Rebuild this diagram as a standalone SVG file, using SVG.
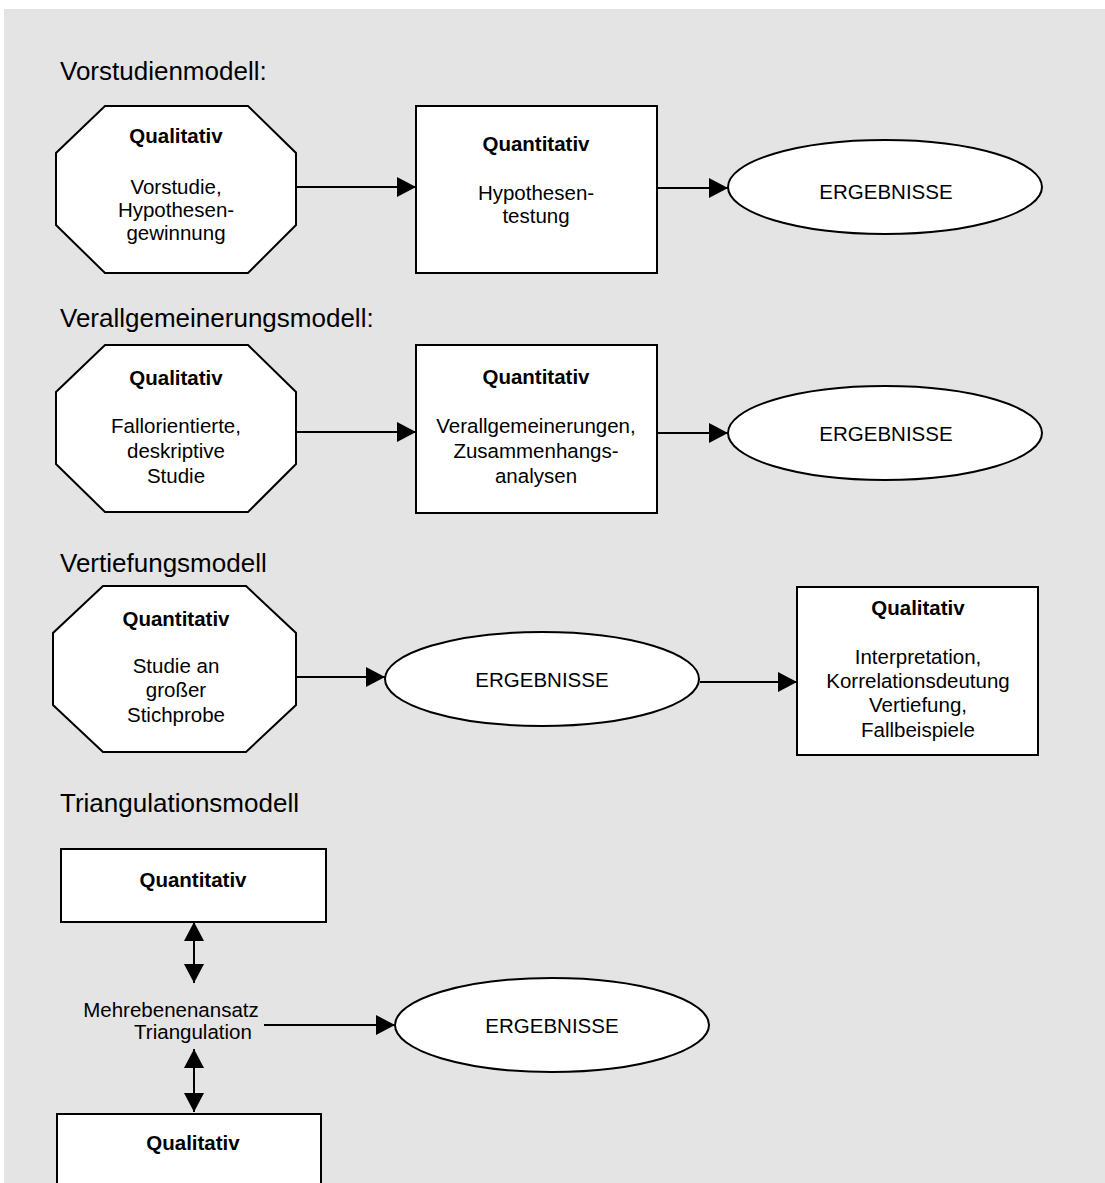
<svg xmlns="http://www.w3.org/2000/svg" width="1105" height="1183" viewBox="0 0 1105 1183">
<defs>
<style>
.bg{fill:#e4e4e4;}
.n{fill:#ffffff;stroke:#000;stroke-width:2;}
.c{fill:none;stroke:#000;stroke-width:2;}
text{font-family:"Liberation Sans",Arial,sans-serif;fill:#000;}
.h{font-size:26px;}
.t{font-size:20.5px;text-anchor:middle;}
.b{font-size:20.5px;font-weight:bold;text-anchor:middle;}
</style>
<marker id="ah" markerUnits="userSpaceOnUse" markerWidth="20" markerHeight="20" refX="19" refY="10" orient="auto-start-reverse" viewBox="0 0 20 20">
<path d="M0,0 L19,10 L0,20 z" fill="#000"/>
</marker>
</defs>
<rect class="bg" x="4" y="9" width="1101" height="1174"/>
<g id="headings">
<text class="h" x="60" y="80">Vorstudienmodell:</text>
<text class="h" x="60" y="327">Verallgemeinerungsmodell:</text>
<text class="h" x="60" y="572">Vertiefungsmodell</text>
<text class="h" x="60" y="812">Triangulationsmodell</text>
</g>
<g id="connectors">
<line class="c" x1="296" y1="187" x2="416" y2="187" marker-end="url(#ah)"/>
<line class="c" x1="657" y1="188" x2="728" y2="188" marker-end="url(#ah)"/>
<line class="c" x1="296" y1="432" x2="416" y2="432" marker-end="url(#ah)"/>
<line class="c" x1="657" y1="433" x2="728" y2="433" marker-end="url(#ah)"/>
<line class="c" x1="296" y1="677" x2="385" y2="677" marker-end="url(#ah)"/>
<line class="c" x1="700" y1="682" x2="797" y2="682" marker-end="url(#ah)"/>
<line class="c" x1="194" y1="922" x2="194" y2="983" marker-start="url(#ah)" marker-end="url(#ah)"/>
<line class="c" x1="194" y1="1049" x2="194" y2="1112" marker-start="url(#ah)" marker-end="url(#ah)"/>
<line class="c" x1="264" y1="1025" x2="395" y2="1025" marker-end="url(#ah)"/>
</g>
<g id="n1">
<polygon class="n" points="105,106 248,106 296,153 296,225 248,273 105,273 56,225 56,153"/>
<text class="b" x="176" y="143">Qualitativ</text>
<text class="t" x="176" y="194">Vorstudie,</text>
<text class="t" x="176" y="217">Hypothesen-</text>
<text class="t" x="176" y="240">gewinnung</text>
</g>
<g id="n2">
<rect class="n" x="416" y="106" width="241" height="167"/>
<text class="b" x="536" y="151">Quantitativ</text>
<text class="t" x="536" y="200">Hypothesen-</text>
<text class="t" x="536" y="223">testung</text>
</g>
<g id="n3">
<ellipse class="n" cx="885" cy="187" rx="157" ry="47"/>
<text class="t" x="886" y="199">ERGEBNISSE</text>
</g>
<g id="n4">
<polygon class="n" points="105,345 248,345 296,392 296,464 248,512 105,512 56,464 56,392"/>
<text class="b" x="176" y="385">Qualitativ</text>
<text class="t" x="176" y="433">Fallorientierte,</text>
<text class="t" x="176" y="458">deskriptive</text>
<text class="t" x="176" y="483">Studie</text>
</g>
<g id="n5">
<rect class="n" x="416" y="345" width="241" height="168"/>
<text class="b" x="536" y="384">Quantitativ</text>
<text class="t" x="536" y="433">Verallgemeinerungen,</text>
<text class="t" x="536" y="458">Zusammenhangs-</text>
<text class="t" x="536" y="483">analysen</text>
</g>
<g id="n6">
<ellipse class="n" cx="885" cy="433" rx="157" ry="47"/>
<text class="t" x="886" y="441">ERGEBNISSE</text>
</g>
<g id="n7">
<polygon class="n" points="103,586 246,586 296,633 296,705 246,752 103,752 53,705 53,633"/>
<text class="b" x="176" y="626">Quantitativ</text>
<text class="t" x="176" y="673">Studie an</text>
<text class="t" x="176" y="697">großer</text>
<text class="t" x="176" y="722">Stichprobe</text>
</g>
<g id="n8">
<ellipse class="n" cx="542" cy="679" rx="157" ry="47"/>
<text class="t" x="542" y="687">ERGEBNISSE</text>
</g>
<g id="n9">
<rect class="n" x="797" y="587" width="241" height="168"/>
<text class="b" x="918" y="615">Qualitativ</text>
<text class="t" x="918" y="664">Interpretation,</text>
<text class="t" x="918" y="688">Korrelationsdeutung</text>
<text class="t" x="918" y="712">Vertiefung,</text>
<text class="t" x="918" y="737">Fallbeispiele</text>
</g>
<g id="n10">
<rect class="n" x="61" y="849" width="265" height="73"/>
<text class="b" x="193" y="887">Quantitativ</text>
</g>
<g id="n11">
<text class="t" x="171" y="1017">Mehrebenenansatz</text>
<text class="t" x="193" y="1039">Triangulation</text>
</g>
<g id="n12">
<ellipse class="n" cx="552" cy="1025" rx="157" ry="47"/>
<text class="t" x="552" y="1033">ERGEBNISSE</text>
</g>
<g id="n13">
<rect class="n" x="57" y="1114" width="264" height="80"/>
<text class="b" x="193" y="1150">Qualitativ</text>
</g>
</svg>
